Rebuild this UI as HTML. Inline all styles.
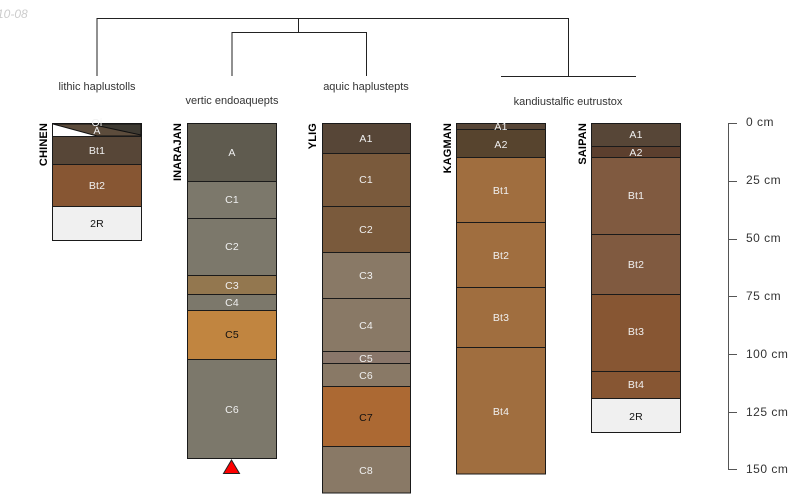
<!DOCTYPE html>
<html><head><meta charset="utf-8"><style>
html,body{margin:0;padding:0;background:#fff;width:800px;height:500px;overflow:hidden}
svg{display:block}
text{font-family:"Liberation Sans",sans-serif}
.l{font-size:10.5px;text-anchor:middle;fill:#f0f0f0;letter-spacing:.2px}
.d{font-size:10.5px;text-anchor:middle;fill:#111;letter-spacing:.2px}
.t{font-size:11px;text-anchor:middle;fill:#333}
.n{font-size:11px;font-weight:bold;fill:#000;text-anchor:end;letter-spacing:.15px}
.a{font-size:12px;fill:#333;letter-spacing:.5px}
rect{stroke:#1a1a1a;stroke-width:1}
</style></head><body>
<svg width="800" height="500" viewBox="0 0 800 500" xmlns="http://www.w3.org/2000/svg">
<text x="-3" y="18" font-size="12" font-style="italic" fill="#ccc">10-08</text>
<g fill="none" stroke="#222" stroke-width="1">
<path d="M97 76V18.500H568.500V76"/>
<path d="M298.500 18V32.500"/>
<path d="M232 76V32.500H366.500V76"/>
<path d="M501 76.500H636"/>
</g>
<text class="t" x="97" y="90">lithic haplustolls</text>
<text class="t" x="232" y="104">vertic endoaquepts</text>
<text class="t" x="366" y="90">aquic haplustepts</text>
<text class="t" x="568" y="105">kandiustalfic eutrustox</text>

<!-- CHINEN -->
<g>
<rect x="52.500" y="123.500" width="89" height="13" fill="#fff"/>
<polygon points="53,124 141,124 141,136 97,136" fill="#5c4c3c" stroke="#111" stroke-width="1"/>
<polygon points="90,124 141,124 141,135" fill="#3e3a32" stroke="#111" stroke-width="1"/>
<rect x="52.500" y="136.500" width="89" height="28" fill="#574637"/>
<rect x="52.500" y="164.500" width="89" height="42" fill="#875633"/>
<rect x="52.500" y="206.500" width="89" height="34" fill="#f0f0f0"/>
<text class="l" x="97" y="126">Oi</text>
<text class="l" x="97" y="134">A</text>
<text class="l" x="97" y="154">Bt1</text>
<text class="l" x="97" y="189">Bt2</text>
<text class="d" x="97" y="227">2R</text>
<text class="n" transform="translate(47,123) rotate(-90)">CHINEN</text>
</g>

<!-- INARAJAN -->
<g>
<rect x="187.500" y="123.500" width="89" height="58" fill="#5f5b4f"/>
<rect x="187.500" y="181.500" width="89" height="37" fill="#7c786b"/>
<rect x="187.500" y="218.500" width="89" height="57" fill="#7c786b"/>
<rect x="187.500" y="275.500" width="89" height="19" fill="#93774f"/>
<rect x="187.500" y="294.500" width="89" height="16" fill="#7c786b"/>
<rect x="187.500" y="310.500" width="89" height="49" fill="#c18540"/>
<rect x="187.500" y="359.500" width="89" height="99" fill="#7c786b"/>
<text class="l" x="232" y="156">A</text>
<text class="l" x="232" y="203">C1</text>
<text class="l" x="232" y="250">C2</text>
<text class="l" x="232" y="289">C3</text>
<text class="l" x="232" y="306">C4</text>
<text class="d" x="232" y="338">C5</text>
<text class="l" x="232" y="413">C6</text>
<text class="n" transform="translate(181,123) rotate(-90)">INARAJAN</text>
<polygon points="231.500,460 239.500,473.500 223.500,473.500" fill="#f00" stroke="#222" stroke-width="1"/>
</g>

<!-- YLIG -->
<g>
<rect x="322.500" y="123.500" width="88" height="30" fill="#574637"/>
<rect x="322.500" y="153.500" width="88" height="53" fill="#7a5a3c"/>
<rect x="322.500" y="206.500" width="88" height="46" fill="#7a5a3c"/>
<rect x="322.500" y="252.500" width="88" height="46" fill="#897966"/>
<rect x="322.500" y="298.500" width="88" height="53" fill="#897966"/>
<rect x="322.500" y="351.500" width="88" height="12" fill="#89766a"/>
<rect x="322.500" y="363.500" width="88" height="23" fill="#897966"/>
<rect x="322.500" y="386.500" width="88" height="60" fill="#ac6933"/>
<rect x="322.500" y="446.500" width="88" height="46.500" fill="#897966"/>
<text class="l" x="366" y="142">A1</text>
<text class="l" x="366" y="183">C1</text>
<text class="l" x="366" y="233">C2</text>
<text class="l" x="366" y="279">C3</text>
<text class="l" x="366" y="329">C4</text>
<text class="l" x="366" y="362">C5</text>
<text class="l" x="366" y="379">C6</text>
<text class="d" x="366" y="421">C7</text>
<text class="l" x="366" y="474">C8</text>
<text class="n" transform="translate(316,123) rotate(-90)">YLIG</text>
</g>

<!-- KAGMAN -->
<g>
<rect x="456.500" y="123.500" width="89" height="6" fill="#574637"/>
<rect x="456.500" y="129.500" width="89" height="28" fill="#57442e"/>
<rect x="456.500" y="157.500" width="89" height="65" fill="#a06e3f"/>
<rect x="456.500" y="222.500" width="89" height="65" fill="#a06e3f"/>
<rect x="456.500" y="287.500" width="89" height="60" fill="#a06e3f"/>
<rect x="456.500" y="347.500" width="89" height="126.500" fill="#a06e3f"/>
<text class="l" x="501" y="130">A1</text>
<text class="l" x="501" y="148">A2</text>
<text class="l" x="501" y="194">Bt1</text>
<text class="l" x="501" y="259">Bt2</text>
<text class="l" x="501" y="321">Bt3</text>
<text class="l" x="501" y="415">Bt4</text>
<text class="n" transform="translate(451,123) rotate(-90)">KAGMAN</text>
</g>

<!-- SAIPAN -->
<g>
<rect x="591.500" y="123.500" width="89" height="23" fill="#574637"/>
<rect x="591.500" y="146.500" width="89" height="11" fill="#5c3f2e"/>
<rect x="591.500" y="157.500" width="89" height="77" fill="#805a40"/>
<rect x="591.500" y="234.500" width="89" height="60" fill="#805a40"/>
<rect x="591.500" y="294.500" width="89" height="77" fill="#875633"/>
<rect x="591.500" y="371.500" width="89" height="27" fill="#875633"/>
<rect x="591.500" y="398.500" width="89" height="34" fill="#f0f0f0"/>
<text class="l" x="636" y="138">A1</text>
<text class="l" x="636" y="156">A2</text>
<text class="l" x="636" y="199">Bt1</text>
<text class="l" x="636" y="268">Bt2</text>
<text class="l" x="636" y="335">Bt3</text>
<text class="l" x="636" y="388">Bt4</text>
<text class="d" x="636" y="420">2R</text>
<text class="n" transform="translate(586,123) rotate(-90)">SAIPAN</text>
</g>

<!-- Depth axis -->
<g fill="none" stroke="#555" stroke-width="1">
<path d="M728.500 123V469"/>
<path d="M728 123.500H737M728 181.500H737M728 239.500H737M728 296.500H737M728 354.500H737M728 412.500H737M728 469.500H737"/>
</g>
<text class="a" x="746" y="126">0 cm</text>
<text class="a" x="746" y="184">25 cm</text>
<text class="a" x="746" y="242">50 cm</text>
<text class="a" x="746" y="300">75 cm</text>
<text class="a" x="746" y="358">100 cm</text>
<text class="a" x="746" y="416">125 cm</text>
<text class="a" x="746" y="473">150 cm</text>
</svg>
</body></html>
